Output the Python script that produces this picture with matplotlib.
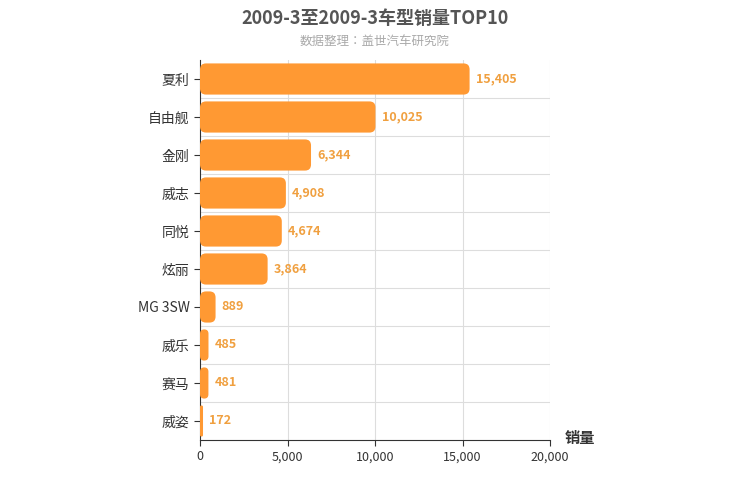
import matplotlib
matplotlib.use("Agg")
import matplotlib.pyplot as plt
from matplotlib import font_manager
from matplotlib.patches import FancyBboxPatch

cjk = [f.name for f in font_manager.fontManager.ttflist if "CJK" in f.name]
pref = [n for n in ["Noto Sans CJK SC", "Noto Sans CJK JP"] if n in cjk] or cjk
plt.rcParams['font.family'] = 'sans-serif'
plt.rcParams['font.sans-serif'] = pref[:1] + ['DejaVu Sans']

categories = ["夏利", "自由舰", "金刚", "威志", "同悦", "炫丽", "MG 3SW", "威乐", "赛马", "威姿"]
values = [15405, 10025, 6344, 4908, 4674, 3864, 889, 485, 481, 172]
xticks = [0, 5000, 10000, 15000, 20000]

fig = plt.figure(figsize=(7.5, 5), dpi=100)
ax = fig.add_axes([200/750, 60/500, 350/750, 380/500])
n = len(categories)
ax.set_xlim(0, 20000)
ax.set_ylim(n, 0)
color = "#FF9933"
h = 0.82
xpp = 20000 / 350
ypp = 1 / 38
for i, v in enumerate(values):
    y0 = i + (1 - h) / 2
    r = min(6 * xpp, v / 2)
    ax.add_patch(FancyBboxPatch((0, y0), v, h, boxstyle=f"round,pad=0,rounding_size={r}",
                                mutation_aspect=ypp / xpp, fc=color, ec="none", zorder=3))
    ax.text(v + 350, i + 0.5, f"{v:,}", va="center", ha="left", color="#F0A040",
            fontsize=9, fontweight="bold", zorder=4)
ax.set_yticks([i + 0.5 for i in range(n)])
ax.set_yticklabels(categories, fontsize=10, color="#333333")
ax.set_xticks(xticks)
ax.set_xticklabels([f"{t:,}" for t in xticks], fontsize=9, color="#333333")
for i in range(1, n):
    ax.axhline(i, color="#dddddd", lw=0.8, zorder=1)
for t in xticks[1:]:
    ax.axvline(t, color="#dddddd", lw=0.8, zorder=1)
for s in ["top", "right"]:
    ax.spines[s].set_visible(False)
ax.spines["left"].set_color("#333333")
ax.spines["bottom"].set_color("#333333")
ax.tick_params(axis="y", length=4, color="#333333")
ax.tick_params(axis="x", length=4, color="#333333")
fig.text(0.5, 1 - 18/500, "2009-3至2009-3车型销量TOP10", ha="center", va="center",
         fontsize=13, fontweight="bold", color="#555555")
fig.text(0.5, 1 - 41/500, "数据整理：盖世汽车研究院", ha="center", va="center",
         fontsize=9, color="#aaaaaa")
fig.text(580/750, 1 - 438/500, "销量", ha="center", va="center", fontsize=11,
         fontweight="bold", color="#333333")
fig.savefig("out.png", dpi=100)
